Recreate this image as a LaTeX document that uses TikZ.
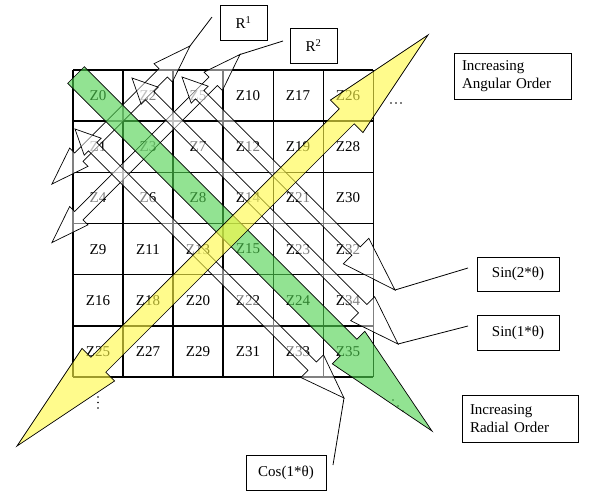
\documentclass[tikz,border=0pt]{standalone}
\usepackage{fontspec}
\setmainfont{Liberation Serif}
\usetikzlibrary{calc}
\definecolor{garrowc}{RGB}{80,210,80}
\definecolor{yarrowc}{RGB}{255,250,70}
% #1 style, #2 tip A, #3 tip B, #4 shaft half width, #5 head length A, #6 head half width A, #7 head length B, #8 head half width B
\newcommand\blockarr[8]{%
  \coordinate (bA) at #2; \coordinate (bB) at #3;
  \coordinate (bA1) at ($(bA)!#5!(bB)$);
  \coordinate (bB1) at ($(bB)!#7!(bA)$);
  \path[#1] (bA) -- ($(bA1)!#6!90:(bB)$) -- ($(bA1)!#4!90:(bB)$)
    -- ($(bB1)!#4!-90:(bA)$) -- ($(bB1)!#8!-90:(bA)$) -- (bB)
    -- ($(bB1)!#8!90:(bA)$) -- ($(bB1)!#4!90:(bA)$)
    -- ($(bA1)!#4!-90:(bB)$) -- ($(bA1)!#6!-90:(bB)$) -- cycle;
}
\begin{document}
\begin{tikzpicture}[x=1pt,y=-1pt,
  txt/.style={font=\fontsize{15}{17.5}\selectfont, inner sep=0pt},
  lblbox/.style={draw, line width=0.9pt, font=\fontsize{15}{17.5}\selectfont, inner sep=0pt},
  thin/.style={line width=1pt},
  thick/.style={line width=2.4pt},
  warrow/.style={draw=black, line width=0.7pt, fill=white, fill opacity=0.5},
  garrow/.style={draw=black, line width=0.7pt, fill=garrowc, fill opacity=0.62},
  yarrow/.style={draw=black, line width=0.7pt, fill=yarrowc, fill opacity=0.62},
  leader/.style={line width=0.8pt},
  dotm/.style={fill=black, inner sep=0pt, minimum size=1.6pt, circle}]
\useasboundingbox (0,0) rectangle (590,501);
\fill[white] (0,0) rectangle (590,501);

% grid thin lines
\foreach \c in {273,323,373} \draw[thin] (\c,70) -- (\c,377);
\foreach \r in {172.3,223.5,274.7} \draw[thin] (73,\r) -- (373,\r);
% thick lines
\foreach \c in {73,123,173,223} \draw[thick] (\c,70) -- (\c,377);
\foreach \r in {70,121.2,325.8,377} \draw[thick] (73,\r) -- (373,\r);

% cell labels
\foreach \row/\list in {0/{0,2,5,10,17,26},1/{1,3,7,12,19,28},2/{4,6,8,14,21,30},3/{9,11,13,15,23,32},4/{16,18,20,22,24,34},5/{25,27,29,31,33,35}}{
  \foreach \z [count=\col from 0] in \list {
    \node[txt] (z\z) at ({98+50*\col},{95.6+51.17*\row}) {Z\z};
  }
}

% ellipses
\node[dotm] (hd1) at (391,103) {}; \node[dotm] (hd2) at (396,103) {}; \node[dotm] (hd3) at (401,103) {};
\node[dotm] (vd1) at (98,397) {}; \node[dotm] (vd2) at (98,402.5) {}; \node[dotm] (vd3) at (98,408) {};
\node[dotm] (dd1) at (393,400) {}; \node[dotm] (dd2) at (398,406) {}; \node[dotm] (dd3) at (403,411) {};

% white double arrows
\blockarr{warrow}{(52,184)}{(190,46)}{6pt}{38pt}{13pt}{38pt}{13pt}
\coordinate (r1tip) at (190,46);
\blockarr{warrow}{(52,242.5)}{(240,54.5)}{6pt}{38pt}{13pt}{38pt}{13pt}
\coordinate (r2tip) at (240,54.5);
\blockarr{warrow}{(75,129)}{(344,398)}{6pt}{25pt}{12pt}{45pt}{16pt}
\coordinate (costip) at (344,398);
\blockarr{warrow}{(132,78)}{(398,344)}{6pt}{25pt}{12pt}{50pt}{17pt}
\coordinate (sin1tip) at (398,344);
\blockarr{warrow}{(182,77)}{(395,290)}{6pt}{25pt}{12pt}{55pt}{18pt}
\coordinate (sin2tip) at (395,290);

% green (radial) and yellow (angular) arrows
\blockarr{garrow}{(76,75)}{(432,431)}{11.7pt}{0pt}{11.7pt}{118pt}{23pt}
\blockarr{yarrow}{(17,446)}{(428,35)}{10.6pt}{115pt}{23pt}{115pt}{23pt}

% label boxes
\node[lblbox, minimum width=47pt, minimum height=35pt] (r1) at (243.5,22.5) {R\textsuperscript{1}};
\node[lblbox, minimum width=47pt, minimum height=35pt] (r2) at (313.5,45.5) {R\textsuperscript{2}};
\node[lblbox, minimum width=117pt, minimum height=46pt, text width=101pt, inner xsep=8pt, align=left] (ang) at (512.5,76) {Increasing\\Angular Order};
\node[lblbox, minimum width=82pt, minimum height=34pt] (sin2) at (518,274) {Sin(2*θ)};
\node[lblbox, minimum width=82pt, minimum height=35pt] (sin1) at (518,332.5) {Sin(1*θ)};
\node[lblbox, minimum width=116pt, minimum height=47pt, text width=100pt, inner xsep=8pt, align=left] (rad) at (520,418.5) {Increasing\\Radial Order};
\node[lblbox, minimum width=80pt, minimum height=35pt] (cos) at (286,472.5) {Cos(1*θ)};

% leader lines
\coordinate (r1l) at (212,17);
\coordinate (r2l) at (283,41);
\coordinate (sin2l) at (468,268);
\coordinate (sin1l) at (468,326);
\coordinate (cosl) at (333,465);
\draw[leader] (r1l) -- (r1tip);
\draw[leader] (r2l) -- (r2tip);
\draw[leader] (sin2l) -- (sin2tip);
\draw[leader] (sin1l) -- (sin1tip);
\draw[leader] (cosl) -- (costip);
\end{tikzpicture}
\end{document}
